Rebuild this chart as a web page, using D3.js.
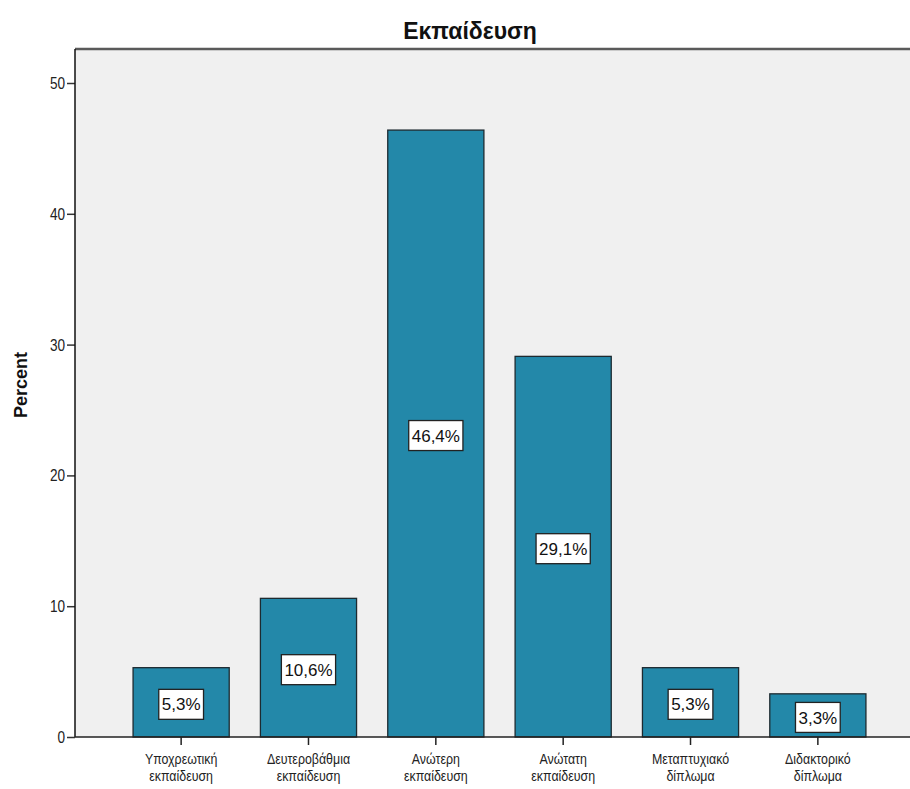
<!DOCTYPE html>
<html>
<head>
<meta charset="utf-8">
<script src="https://d3js.org/d3.v7.min.js"></script>
<style>
  body { margin: 0; background: #fff; }
  text { font-family: "Liberation Sans", Arial, sans-serif; }
</style>
</head>
<body>
<div id="chart"></div>
<script>
// data
var categories = [
  ["Υποχρεωτική", "εκπαίδευση"],
  ["Δευτεροβάθμια", "εκπαίδευση"],
  ["Ανώτερη", "εκπαίδευση"],
  ["Ανώτατη", "εκπαίδευση"],
  ["Μεταπτυχιακό", "δίπλωμα"],
  ["Διδακτορικό", "δίπλωμα"]
];
var percents = [5.3, 10.6, 46.4, 29.1, 5.3, 3.3];
var yTicks = [0, 10, 20, 30, 40, 50];

var W = 910, H = 789;
var pLeft = 75, pTop = 49, pBottom = 737, pRight = 924;

var svg = d3.select("#chart").append("svg")
  .attr("width", W).attr("height", H);

var keys = categories.map(function(c, i) { return i; });

var x = d3.scaleBand()
  .domain(keys)
  .range([pLeft, pRight])
  .paddingInner(0.245)
  .paddingOuter(0.456);

var y = d3.scaleLinear()
  .domain([0, 52.6])
  .range([pBottom, pTop]);

// plot background
svg.append("rect")
  .attr("x", pLeft).attr("y", pTop)
  .attr("width", pRight - pLeft).attr("height", pBottom - pTop)
  .attr("fill", "#f0f0f0");

// top frame line
svg.append("line")
  .attr("x1", pLeft).attr("x2", W)
  .attr("y1", pTop).attr("y2", pTop)
  .attr("stroke", "#5a5a5a").attr("stroke-width", 2.5);

// title
svg.append("text")
  .attr("x", 470).attr("y", 39)
  .attr("text-anchor", "middle")
  .style("font-size", "23px")
  .style("font-weight", "bold")
  .attr("fill", "#111")
  .text("Εκπαίδευση");

// bars
svg.selectAll(".bar")
  .data(percents)
  .enter().append("rect")
  .attr("class", "bar")
  .attr("x", function(d, i) { return x(i); })
  .attr("y", function(d) { return y(d); })
  .attr("width", x.bandwidth())
  .attr("height", function(d) { return pBottom - y(d); })
  .attr("fill", "#2388a9")
  .attr("stroke", "#1d2a30")
  .attr("stroke-width", 1.3);

// value labels
var lab = svg.selectAll(".lab")
  .data(percents)
  .enter().append("g")
  .attr("class", "lab")
  .attr("transform", function(d, i) {
    return "translate(" + (x(i) + x.bandwidth() / 2) + "," + ((y(d) + y(0)) / 2 + 2) + ")";
  });

lab.append("text")
  .attr("text-anchor", "middle")
  .attr("dy", "0.36em")
  .style("font-size", "17px")
  .attr("fill", "#111")
  .text(function(d) { return d.toFixed(1).replace(".", ",") + "%"; });

lab.each(function() {
  var g = d3.select(this);
  var bb = g.select("text").node().getBBox();
  g.insert("rect", "text")
    .attr("x", bb.x - 3).attr("y", -15)
    .attr("width", bb.width + 6).attr("height", 30)
    .attr("fill", "#fff")
    .attr("stroke", "#222")
    .attr("stroke-width", 1.3);
});

// y axis
var yAxis = svg.append("g")
  .attr("transform", "translate(" + pLeft + ",0)")
  .call(d3.axisLeft(y).tickValues(yTicks).tickSize(8).tickPadding(0).tickFormat(d3.format("d")));
yAxis.select(".domain").remove();
yAxis.selectAll(".tick line").attr("stroke", "#333").attr("stroke-width", 1.5);
yAxis.selectAll(".tick text")
  .style("font-size", "17px")
  .attr("fill", "#222")
  .attr("x", 0)
  .attr("transform", "translate(-10,0) scale(0.8,1)")
  .attr("text-anchor", "end");
svg.append("line")
  .attr("x1", pLeft).attr("x2", pLeft)
  .attr("y1", pTop).attr("y2", pBottom)
  .attr("stroke", "#111").attr("stroke-width", 1.5);

// x axis
var xAxis = svg.append("g")
  .attr("transform", "translate(0," + pBottom + ")")
  .call(d3.axisBottom(x).tickSize(8).tickFormat(""));
xAxis.select(".domain").remove();
xAxis.selectAll(".tick line").attr("stroke", "#222").attr("stroke-width", 1.5);
svg.append("line")
  .attr("x1", pLeft).attr("x2", W)
  .attr("y1", pBottom).attr("y2", pBottom)
  .attr("stroke", "#222").attr("stroke-width", 1.5);

xAxis.selectAll(".tick").each(function(d) {
  var t = d3.select(this).append("text")
    .attr("text-anchor", "middle")
    .attr("fill", "#222")
    .attr("transform", "scale(0.8,1)")
    .style("font-size", "15.5px");
  categories[d].forEach(function(line, j) {
    t.append("tspan").attr("x", 0).attr("y", 27 + j * 17).text(line);
  });
});

// y axis title
svg.append("text")
  .attr("transform", "translate(27," + 385 + ") rotate(-90)")
  .attr("text-anchor", "middle")
  .style("font-size", "18px")
  .style("font-weight", "bold")
  .attr("fill", "#111")
  .text("Percent");
</script>
</body>
</html>
